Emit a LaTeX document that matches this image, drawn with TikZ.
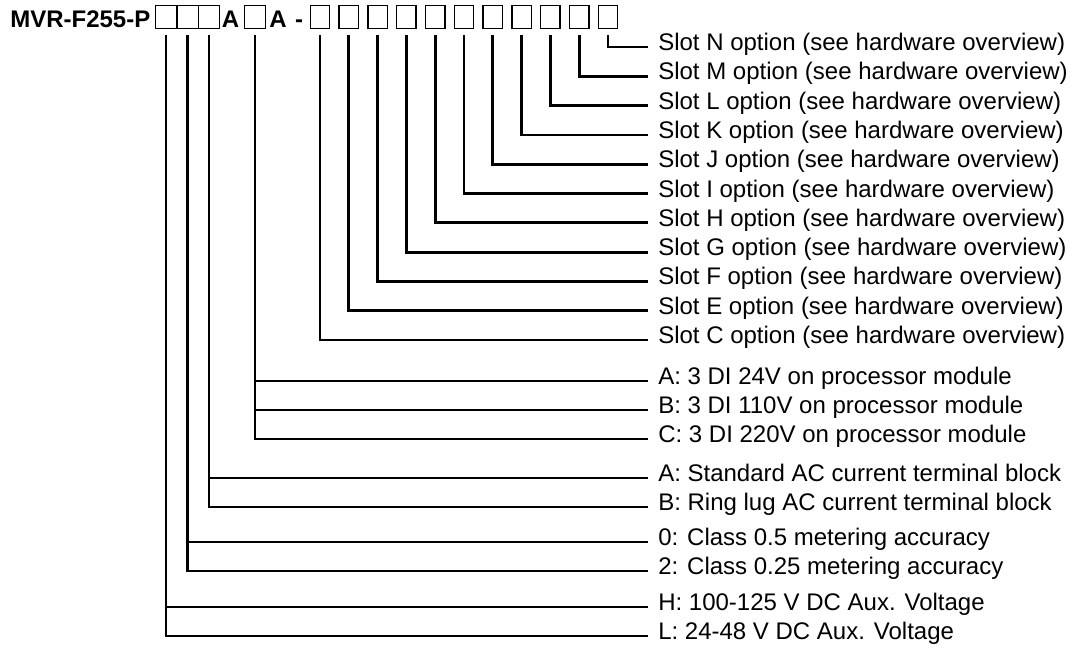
\documentclass[tikz,border=0pt]{standalone}
\usepackage{fontspec}
\setmainfont{Liberation Sans}
\usetikzlibrary{positioning,calc}
\definecolor{ink}{HTML}{000000}
\tikzset{
  every node/.style={font=\fontsize{18}{21}\selectfont, text=ink},
  % --- nodes
  code/.style    = {inner sep=0pt, anchor=base, font=\fontsize{18}{21}\selectfont\bfseries},
  tribox/.style  = {draw=ink, line width=1pt, minimum width=16pt, minimum height=17.5pt, inner sep=0pt},
  slotbox/.style = {tribox, minimum width=14.5pt},
  opt/.style     = {anchor=west, inner xsep=7.5pt, inner ysep=0pt, text height=0.75em, text depth=0.22em},
  % --- edges
  lead/.style    = {draw=ink, line width=2.1pt},
}
\begin{document}
\begin{tikzpicture}[x=0.75pt,y=-0.75pt]
  \useasboundingbox (0,0) rectangle (1073,657);

  % --- order code
  \node[code,anchor=base west] (title) at (10,27) {MVR-F255-P};
  \node[tribox] (bAux) at (166,17) {};
  \node[tribox] (bAcc) at (187.5,17) {};
  \node[tribox] (bCt)  at (209,17) {};
  \node[code] (fixA) at (230.5,27) {A};
  \node[tribox] (bDi)  at (255,17) {};
  \node[code] (fixB) at (278,27) {A};
  \node[code] (dash) at (299,27) {-};
  \foreach \s [count=\i from 0] in {C,E,F,G,H,I,J,K,L,M,N} {
    \node[slotbox] (b\s) at ({320+28.8*\i},17) {};
  }

  % --- slot options
  \foreach \s [count=\i from 0] in {C,E,F,G,H,I,J,K,L,M,N} {
    \node[opt] (o\s) at (648,{340-29.3*\i}) {Slot \s\ option (see hardware overview)};
    \draw[lead] (b\s.south) ++(0,6) |- (o\s.west);
  }

  % --- digital inputs
  \node[opt] (diA) at (648,381) {A: 3 DI 24V on processor module};
  \node[opt] (diB) at (648,410) {B: 3 DI 110V on processor module};
  \node[opt] (diC) at (648,439) {C: 3 DI 220V on processor module};
  \draw[lead] (bDi.south) ++(0,6) |- (diC.west);
  \draw[lead] (bDi.south |- diA.west) -- (diA.west);
  \draw[lead] (bDi.south |- diB.west) -- (diB.west);

  % --- terminal block
  \node[opt] (ctA) at (648,478) {A: Standard AC current terminal block};
  \node[opt] (ctB) at (648,507) {B: Ring lug AC current terminal block};
  \draw[lead] (bCt.south) ++(0,6) |- (ctB.west);
  \draw[lead] (bCt.south |- ctA.west) -- (ctA.west);

  % --- metering
  \node[opt] (acc0) at (648,542) {0: Class 0.5 metering accuracy};
  \node[opt] (acc2) at (648,571) {2: Class 0.25 metering accuracy};
  \draw[lead] (bAcc.south) ++(0,6) |- (acc2.west);
  \draw[lead] (bAcc.south |- acc0.west) -- (acc0.west);

  % --- aux voltage
  \node[opt] (auxH) at (648,607) {H: 100-125 V DC Aux. Voltage};
  \node[opt] (auxL) at (648,636) {L: 24-48 V DC Aux. Voltage};
  \draw[lead] (bAux.south) ++(0,6) |- (auxL.west);
  \draw[lead] (bAux.south |- auxH.west) -- (auxH.west);
\end{tikzpicture}
\end{document}
